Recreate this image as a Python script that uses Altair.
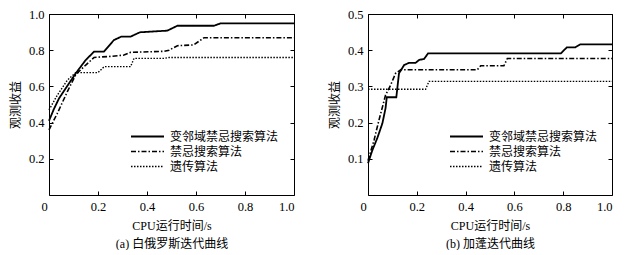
import altair as alt
import pandas as pd

algs = ["变邻域禁忌搜索算法", "禁忌搜索算法", "遗传算法"]

# (a) 白俄罗斯
a_vns_x = [0, 0.02, 0.041, 0.109, 0.15, 0.184, 0.224, 0.265, 0.295, 0.333, 0.371, 0.483, 0.524, 0.673, 0.70, 1.0]
a_vns_y = [0.41, 0.475, 0.534, 0.672, 0.746, 0.792, 0.792, 0.856, 0.875, 0.875, 0.899, 0.908, 0.935, 0.935, 0.948, 0.948]
a_ts_x = [0, 0.034, 0.075, 0.109, 0.15, 0.184, 0.252, 0.306, 0.333, 0.47, 0.49, 0.524, 0.59, 0.633, 1.0]
a_ts_y = [0.36, 0.451, 0.571, 0.665, 0.718, 0.76, 0.766, 0.773, 0.788, 0.794, 0.80, 0.825, 0.829, 0.869, 0.869]
a_ga_x = [0, 0.034, 0.075, 0.109, 0.20, 0.225, 0.333, 0.347, 0.47, 0.49, 1.0]
a_ga_y = [0.47, 0.552, 0.635, 0.676, 0.676, 0.709, 0.709, 0.755, 0.755, 0.76, 0.76]

# (b) 加蓬
b_vns_x = [0, 0.018, 0.038, 0.059, 0.072, 0.077, 0.116, 0.127, 0.148, 0.168, 0.195, 0.209, 0.23, 0.246, 0.79, 0.815, 0.85, 0.87, 1.0]
b_vns_y = [0.0875, 0.124, 0.157, 0.198, 0.24, 0.27, 0.27, 0.336, 0.359, 0.365, 0.365, 0.373, 0.376, 0.391, 0.391, 0.408, 0.408, 0.416, 0.416]
b_ts_x = [0, 0.025, 0.045, 0.072, 0.093, 0.113, 0.134, 0.448, 0.462, 0.557, 0.571, 1.0]
b_ts_y = [0.095, 0.152, 0.207, 0.276, 0.304, 0.336, 0.346, 0.346, 0.357, 0.357, 0.377, 0.377]
b_ga_x = [0, 0.236, 0.25, 1.0]
b_ga_y = [0.292, 0.292, 0.314, 0.314]

x_ticks = [0, 0.2, 0.4, 0.6, 0.8, 1.0]
a_y_ticks = [0.2, 0.4, 0.6, 0.8, 1.0]
b_y_ticks = [0.1, 0.2, 0.3, 0.4, 0.5]

SERIF = "Liberation Serif, Noto Sans CJK SC"


def panel(series, ydom, yticks, subtitle, width):
    rows = []
    for alg, (xs, ys) in zip(algs, series):
        for i, (x, y) in enumerate(zip(xs, ys)):
            rows.append({"t": x, "v": y, "alg": alg, "i": i})
    df = pd.DataFrame(rows)
    base = alt.Chart(df)
    xscale = alt.Scale(domain=[0, 1], nice=False, zero=False)
    yscale = alt.Scale(domain=ydom, nice=False, zero=False)
    leg = alt.Legend(
        title=None, orient="none", legendX=81, legendY=116,
        symbolType="stroke", symbolSize=1089, symbolStrokeColor="black",
        labelFont=SERIF, labelFontSize=12, labelColor="black",
        labelOffset=5, rowPadding=2, padding=0, labelLimit=300, clipHeight=13,
    )
    lines = base.mark_line(color="black", strokeCap="butt").encode(
        x=alt.X("t:Q", scale=xscale, axis=alt.Axis(
            values=x_ticks,
            labelExpr="datum.value == 0 ? '0' : format(datum.value, '.1f')",
            labelOffset={"condition": {"test": "datum.value == 0", "value": -8}, "value": 0},
            offset=-4, tickSize=4, labelPadding=5,
            title=["CPU运行时间/s", subtitle], titlePadding=8, titleLineHeight=18)),
        y=alt.Y("v:Q", scale=yscale, axis=alt.Axis(
            values=yticks, format=".1f", offset=-4, tickSize=4, labelPadding=5,
            title="观测收益", titlePadding=6)),
        strokeDash=alt.StrokeDash("alg:N", scale=alt.Scale(
            domain=algs, range=[[1, 0], [5, 2, 1.5, 2], [1.5, 1.5]]), legend=leg),
        strokeWidth=alt.StrokeWidth("alg:N", scale=alt.Scale(
            domain=algs, range=[1.8, 1.4, 1.3]), legend=leg),
        order="i:Q",
    )
    frame = base.mark_line(opacity=0).encode(
        x=alt.X("t:Q", scale=xscale, axis=alt.Axis(
            orient="top", values=x_ticks, labels=False, title=None, offset=-4, tickSize=4)),
        y=alt.Y("v:Q", scale=yscale, axis=alt.Axis(
            orient="right", values=yticks, labels=False, title=None, offset=-4, tickSize=4)),
        detail="alg:N",
    )
    return alt.layer(lines, frame).resolve_axis(
        x="independent", y="independent").properties(width=width, height=181)


left = panel([(a_vns_x, a_vns_y), (a_ts_x, a_ts_y), (a_ga_x, a_ga_y)],
             [0, 1.0], a_y_ticks, "(a) 白俄罗斯迭代曲线", 245)
right = panel([(b_vns_x, b_vns_y), (b_ts_x, b_ts_y), (b_ga_x, b_ga_y)],
              [0, 0.5], b_y_ticks, "(b) 加蓬迭代曲线", 244)

chart = alt.hconcat(left, right, spacing=74, bounds="flush").resolve_scale(
    strokeDash="independent", strokeWidth="independent"
).resolve_legend(
    strokeDash="independent", strokeWidth="independent"
).configure(
    background="white", padding={"left": 0, "top": -1, "right": 0, "bottom": 0}
).configure_view(
    stroke="black", strokeWidth=1
).configure_axis(
    domain=False, grid=False, tickColor="black", tickWidth=1,
    labelColor="black", labelFont="Liberation Serif", labelFontSize=12.5,
    titleColor="black", titleFont=SERIF, titleFontSize=12, titleFontWeight="normal",
)

chart.save("out.html", embed_options={"renderer": "svg", "actions": False})
